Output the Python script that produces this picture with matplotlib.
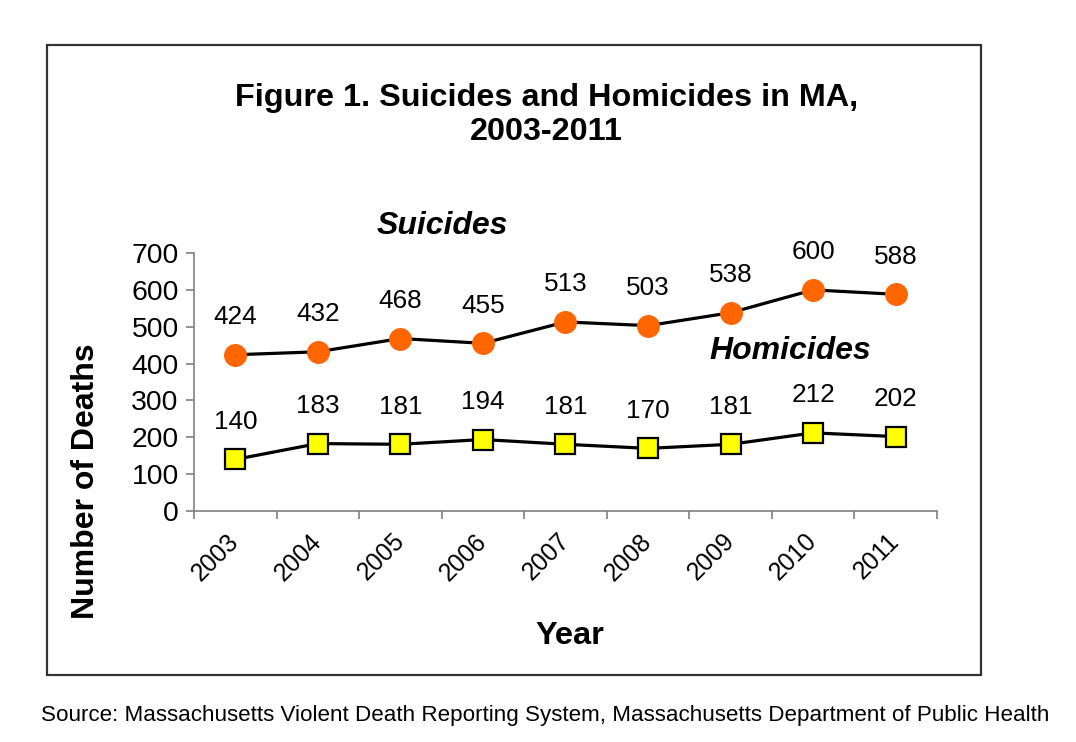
import matplotlib
matplotlib.use('Agg')
import matplotlib.pyplot as plt
from matplotlib.patches import Rectangle

plt.rcParams['font.family'] = ['Liberation Sans', 'DejaVu Sans']

# data
years = ['2003', '2004', '2005', '2006', '2007', '2008', '2009', '2010', '2011']
suicides = [424, 432, 468, 455, 513, 503, 538, 600, 588]
homicides = [140, 183, 181, 194, 181, 170, 181, 212, 202]
y_ticks = [0, 100, 200, 300, 400, 500, 600, 700]

fig = plt.figure(figsize=(10.76, 7.42), dpi=100)

# outer frame around the chart
fig.patches.append(Rectangle((0.0437, 0.0903), 0.868, 0.849, transform=fig.transFigure,
                             fill=False, edgecolor='#333333', linewidth=1.6))

ax = fig.add_axes([0.1803, 0.3113, 0.6905, 0.3477])
x = list(range(len(years)))

ax.plot(x, suicides, color='black', linewidth=2.3, marker='o', markersize=15.5,
        markerfacecolor='#FF6600', markeredgecolor='#FF6600', zorder=3)
ax.plot(x, homicides, color='black', linewidth=2.3, marker='s', markersize=14,
        markerfacecolor='#FFFF00', markeredgecolor='black', markeredgewidth=1.6, zorder=3)

for xi, v in zip(x, suicides):
    ax.annotate(str(v), (xi, v), xytext=(0, 27), textcoords='offset points',
                ha='center', va='center', fontsize=18.8)
for xi, v in zip(x, homicides):
    ax.annotate(str(v), (xi, v), xytext=(0, 27), textcoords='offset points',
                ha='center', va='center', fontsize=18.8)

ax.set_xlim(-0.5, len(years) - 0.5)
ax.set_ylim(0, 700)
ax.set_yticks(y_ticks)
ax.set_yticklabels([str(t) for t in y_ticks], fontsize=20.4)

# category boundaries get tick marks, labels sit in the middle
ax.set_xticks([i - 0.5 for i in range(len(years) + 1)])
ax.set_xticklabels([])
ax.set_xticks(x, minor=True)
ax.set_xticklabels(years, minor=True, fontsize=17.8, rotation=45, ha='right',
                   va='center', rotation_mode='anchor')
ax.tick_params(axis='x', which='minor', length=0, pad=19)
ax.tick_params(axis='x', which='major', length=6, color='#808080', width=1.2)
ax.tick_params(axis='y', length=6, color='#808080', width=1.2, pad=5)

for s in ['top', 'right']:
    ax.spines[s].set_visible(False)
for s in ['left', 'bottom']:
    ax.spines[s].set_color('#808080')
    ax.spines[s].set_linewidth(1.2)

fig.text(0.508, 0.845, 'Figure 1. Suicides and Homicides in MA,\n2003-2011',
         ha='center', va='center', fontsize=23.3, fontweight='bold', linespacing=1.2)
fig.text(0.411, 0.695, 'Suicides', ha='center', va='center', fontsize=23,
         fontweight='bold', fontstyle='italic')
fig.text(0.734, 0.527, 'Homicides', ha='center', va='center', fontsize=23,
         fontweight='bold', fontstyle='italic')
fig.text(0.080, 0.352, 'Number of Deaths', ha='center', va='center', rotation=90,
         fontsize=23, fontweight='bold')
fig.text(0.530, 0.143, 'Year', ha='center', va='center', fontsize=23.4, fontweight='bold')
fig.text(0.507, 0.036, 'Source: Massachusetts Violent Death Reporting System, '
         'Massachusetts Department of Public Health', ha='center', va='center', fontsize=16.1)

fig.savefig('out.png', dpi=100)
